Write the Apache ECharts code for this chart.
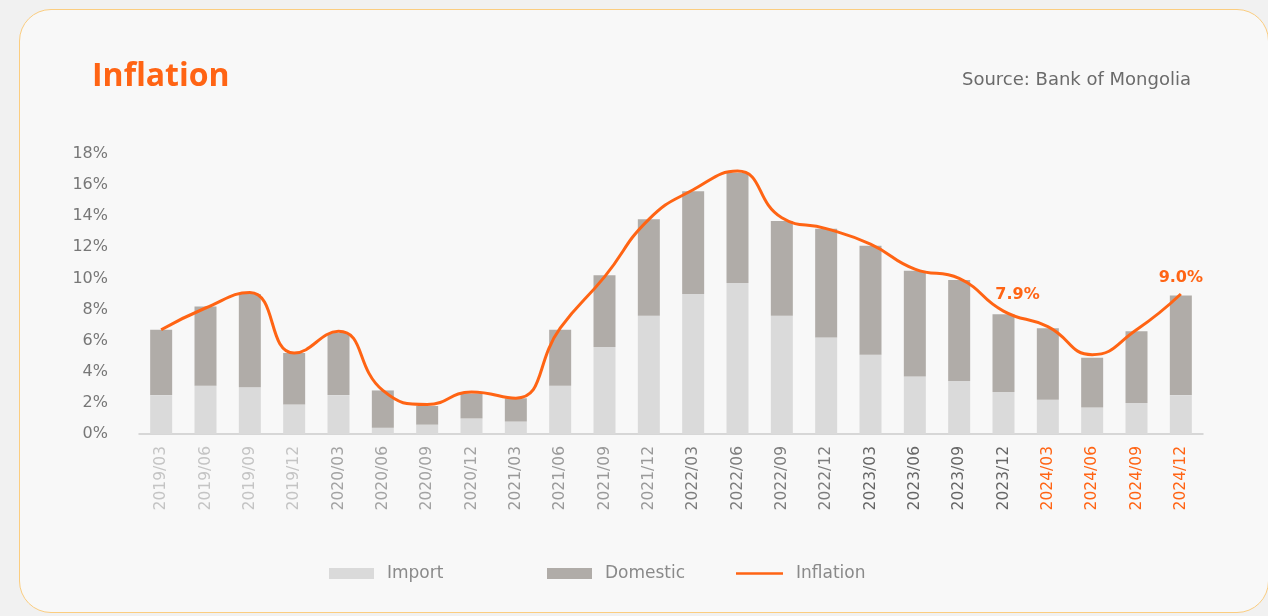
<!DOCTYPE html>
<html>
<head>
<meta charset="utf-8">
<script src="https://cdn.jsdelivr.net/npm/echarts@6/dist/echarts.min.js"></script>
<style>
  html, body { margin: 0; padding: 0; background: #f1f1f1; }
  #card { position: absolute; left: 19px; top: 9px; width: 1250px; height: 604px;
          border: 1.5px solid #fbcd80; border-radius: 32px; background: #f8f8f8; box-sizing: border-box; }
  #chart { position: absolute; left: 0; top: 0; width: 1268px; height: 616px; }
</style>
</head>
<body>
<div id="card"></div>
<div id="chart"></div>
<script>
const categories = ['2019/03','2019/06','2019/09','2019/12','2020/03','2020/06','2020/09','2020/12',
  '2021/03','2021/06','2021/09','2021/12','2022/03','2022/06','2022/09','2022/12',
  '2023/03','2023/06','2023/09','2023/12','2024/03','2024/06','2024/09','2024/12'];
const importValues = [2.5, 3.1, 3.0, 1.9, 2.5, 0.4, 0.6, 1.0, 0.8, 3.1, 5.6, 7.6,
  9.0, 9.7, 7.6, 6.2, 5.1, 3.7, 3.4, 2.7, 2.2, 1.7, 2.0, 2.5];
const domesticValues = [4.2, 5.1, 6.0, 3.3, 4.0, 2.4, 1.2, 1.6, 1.5, 3.6, 4.6, 6.2,
  6.6, 7.1, 6.1, 7.0, 7.0, 6.8, 6.5, 5.0, 4.6, 3.2, 4.6, 6.4];
const inflationValues = [6.7, 8.1, 9.1, 5.2, 6.6, 2.8, 1.9, 2.7, 2.3, 6.8, 10.1, 13.8,
  15.7, 16.9, 13.9, 13.2, 12.2, 10.6, 10.0, 7.9, 6.9, 5.1, 6.7, 9.0];
const labelledPoints = ['2023/12', '2024/12'];
const yTicks = [0, 2, 4, 6, 8, 10, 12, 14, 16, 18];

const ORANGE = '#ff6414';
const FONT = 'DejaVu Sans';

function labelColor(value) {
  const y = value.slice(0, 4);
  if (y === '2019') return '#c4c4c4';
  if (y === '2020') return '#a3a3a3';
  if (y === '2021') return '#999999';
  if (y === '2022') return '#7d7d7d';
  if (y === '2023') return '#666666';
  return ORANGE;
}

const chart = echarts.init(document.getElementById('chart'), null, { renderer: 'canvas' });
chart.setOption({
  backgroundColor: 'transparent',
  animation: false,
  title: [
    { text: 'Inflation', left: 87, top: 56,
      textStyle: { color: ORANGE, fontFamily: 'Open Sans', fontWeight: 'bold', fontSize: 32 } },
    { text: 'Source: Bank of Mongolia', right: 72, top: 66,
      textStyle: { color: '#6b6b6b', fontFamily: FONT, fontWeight: 'normal', fontSize: 18 } }
  ],
  legend: [
    { data: [{ name: 'Import', icon: 'rect' }], left: 324, top: 560, itemWidth: 45, itemHeight: 11,
      textStyle: { color: '#8a8a8a', fontFamily: FONT, fontSize: 17, padding: [0, 0, 0, 8] } },
    { data: [{ name: 'Domestic', icon: 'rect' }], left: 542, top: 560, itemWidth: 45, itemHeight: 11,
      textStyle: { color: '#8a8a8a', fontFamily: FONT, fontSize: 17, padding: [0, 0, 0, 8] } },
    { data: [{ name: 'Inflation', icon: 'rect', itemStyle: { color: ORANGE } }], left: 731, top: 560,
      itemWidth: 47, itemHeight: 2.5,
      textStyle: { color: '#8a8a8a', fontFamily: FONT, fontSize: 17, padding: [0, 0, 0, 8] } }
  ],
  grid: { left: 139, right: 65, top: 154, bottom: 182, containLabel: false },
  xAxis: {
    type: 'category',
    data: categories,
    axisLine: { lineStyle: { color: '#cccccc', width: 1.5 } },
    axisTick: { show: false },
    axisLabel: {
      rotate: 90, interval: 0, margin: 12, fontFamily: FONT, fontSize: 15.5,
      color: function (value) { return labelColor(value); }
    }
  },
  yAxis: {
    type: 'value', min: yTicks[0], max: yTicks[yTicks.length - 1], interval: 2,
    splitLine: { show: false },
    axisLine: { show: false },
    axisTick: { show: false },
    axisLabel: { formatter: '{value}%', color: '#777777', fontFamily: FONT, fontSize: 16, margin: 31 }
  },
  series: [
    { name: 'Import', type: 'bar', stack: 'cpi', data: importValues, barWidth: 22,
      itemStyle: { color: '#dadada' } },
    { name: 'Domestic', type: 'bar', stack: 'cpi', data: domesticValues, barWidth: 22,
      itemStyle: { color: '#b0aca8' } },
    { name: 'Inflation', type: 'line', data: inflationValues.map((v, i) => ({
        value: v,
        label: labelledPoints.includes(categories[i]) ? {
          show: true, position: 'top', distance: 8, formatter: v.toFixed(1) + '%',
          color: ORANGE, fontFamily: FONT, fontWeight: 'bold', fontSize: 16,
          offset: categories[i] === '2023/12' ? [14, 0] : [0, 0]
        } : { show: false }
      })),
      smooth: 0.5, symbol: 'circle', symbolSize: 0.1, showSymbol: true, z: 5,
      lineStyle: { color: ORANGE, width: 3 }, itemStyle: { color: ORANGE } }
  ]
});
</script>
</body>
</html>
